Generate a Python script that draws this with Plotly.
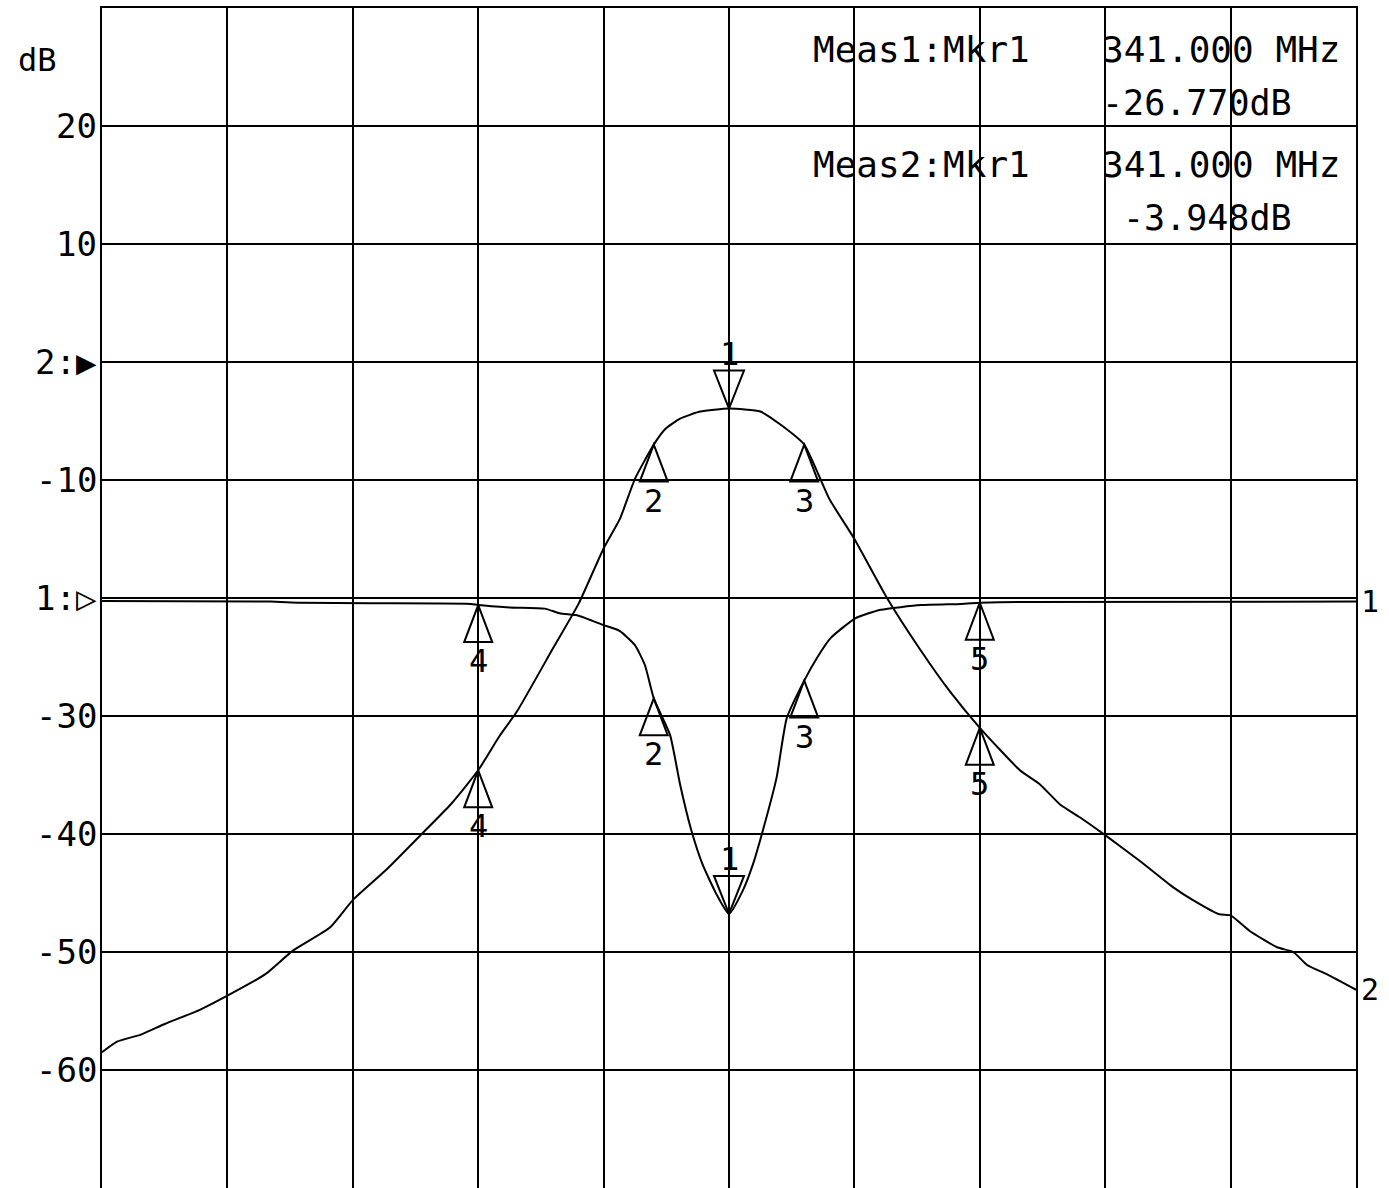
import plotly.graph_objects as go

FONT = "DejaVu Sans Mono, Liberation Mono, monospace"

# ---------------- data ----------------
# Trace 1 (Meas1, reflection) - dB, reference position shown at the "1:" grid line
t1_freq = [291.0, 304.4, 306.8, 312.4, 320.4, 321.0, 323.5, 326.3, 327.5, 329.0,
           331.0, 332.3, 333.5, 334.3, 335.0, 336.3, 337.1, 338.0, 338.9, 340.0,
           341.0, 342.1, 342.9, 343.7, 344.8, 345.6, 347.0, 348.0, 349.1, 351.1,
           353.1, 356.3, 359.5, 361.0, 362.6, 391.0]
t1_db = [-0.25, -0.3, -0.4, -0.45, -0.5, -0.6, -0.8, -0.9, -1.3, -1.5,
         -2.3, -2.8, -4.0, -5.7, -8.5, -11.6, -15.8, -19.7, -22.6, -25.1,
         -26.77, -24.8, -22.6, -19.7, -15.2, -10.2, -7.0, -5.1, -3.4, -1.7,
         -1.0, -0.6, -0.5, -0.4, -0.35, -0.3]
t1_ref_pos = -20

# Trace 2 (Meas2, transmission) - dB, reference position at the "2:" grid line
t2_freq = [291.0, 292.2, 294.1, 296.0, 298.8, 301.0, 304.0, 306.2, 309.2, 311.0,
           313.6, 316.4, 318.8, 321.0, 322.7, 324.1, 327.0, 329.0, 331.0, 332.3,
           333.5, 335.0, 335.9, 337.1, 338.7, 341.0, 343.5, 345.1, 347.0, 349.0,
           351.0, 353.6, 356.2, 358.6, 361.0, 364.2, 365.8, 367.4, 369.0, 371.0,
           373.9, 376.4, 378.0, 380.1, 381.0, 382.5, 384.7, 386.0, 387.1, 388.7, 391.0]
t2_db = [-58.5, -57.6, -57.0, -56.1, -54.9, -53.7, -51.9, -49.9, -47.9, -45.6,
         -43.1, -40.1, -37.5, -34.6, -31.7, -29.6, -24.2, -20.5, -15.8, -13.3,
         -9.9, -7.0, -5.7, -4.8, -4.2, -3.948, -4.2, -5.3, -7.0, -11.6,
         -15.0, -20.0, -24.3, -27.9, -31.0, -34.6, -35.8, -37.5, -38.6, -40.1,
         -42.4, -44.5, -45.6, -46.8, -46.9, -48.2, -49.6, -50.0, -51.1, -51.9, -53.2]
t2_ref_pos = 0

# Markers
mkr_num = [1, 2, 3, 4, 5]
mkr_freq = [341, 335, 347, 321, 361]
t1_mkr_db = [-26.77, -8.5, -7.0, -0.6, -0.4]
t2_mkr_db = [-3.948, -7.0, -7.0, -34.6, -31.0]

# Axis
y_tickvals = [20, 10, 0, -10, -20, -30, -40, -50, -60]
y_ticktext = ["20", "10", "2:\u25B6", "-10", "1:\u25B7", "-30", "-40", "-50", "-60"]
y_gridvals = [30, 20, 10, 0, -10, -20, -30, -40, -50, -60, -70]
x_range = [291, 391]
x_grid = [291, 301, 311, 321, 331, 341, 351, 361, 371, 381, 391]

readout = [("Meas1:Mkr1", "341.000 MHz", "-26.770dB"),
           ("Meas2:Mkr1", "341.000 MHz", "-3.948dB")]

# ---------------- figure ----------------
fig = go.Figure()

traces = [(t1_freq, t1_db, t1_ref_pos, t1_mkr_db, "1"),
          (t2_freq, t2_db, t2_ref_pos, t2_mkr_db, "2")]

shapes = []
annotations = []
for freq, db, ref, mdb, label in traces:
    disp = [v + ref for v in db]
    fig.add_trace(go.Scatter(x=freq, y=disp, mode="lines",
                             line=dict(color="black", width=2, shape="spline", smoothing=0.5),
                             hoverinfo="skip", showlegend=False))
    annotations.append(dict(x=freq[-1], y=disp[-1], xref="x", yref="y", text=label,
                            showarrow=False, xanchor="left", xshift=3,
                            font=dict(family=FONT, size=30, color="black")))
    for n, f, v in zip(mkr_num, mkr_freq, mdb):
        yv = v + ref
        if n == 1:
            path = "M0,0 L-15,38 L15,38 Z"
            ysh = 55
        else:
            path = "M0,0 L-14,-37 L14,-37 Z"
            ysh = -56
        shapes.append(dict(type="path", xref="x", yref="y", xsizemode="pixel",
                           ysizemode="pixel", xanchor=f, yanchor=yv, path=path,
                           line=dict(color="black", width=2), fillcolor="rgba(0,0,0,0)"))
        annotations.append(dict(x=f, y=yv, xref="x", yref="y", text=str(n),
                                showarrow=False, yshift=ysh,
                                font=dict(family=FONT, size=32, color="black")))

# y tick labels placed just left of the axis
for v, t in zip(y_tickvals, y_ticktext):
    annotations.append(dict(x=0, y=v, xref="paper", yref="y", text=t, showarrow=False,
                            xanchor="right", yanchor="middle", xshift=-3,
                            font=dict(family=FONT, size=34, color="black")))

# readout text
rows_y = [(50, 103), (165, 218)]
H = 1180.0
for (name, freq_txt, val_txt), (y1, y2) in zip(readout, rows_y):
    annotations.append(dict(x=(811 - 102) / 1254, y=(1188 - y1) / H, xref="paper", yref="paper",
                            text=name, showarrow=False, xanchor="left", yanchor="middle",
                            font=dict(family=FONT, size=36, color="black")))
    annotations.append(dict(x=(1342 - 102) / 1254, y=(1188 - y1) / H, xref="paper", yref="paper",
                            text=freq_txt, showarrow=False, xanchor="right", yanchor="middle",
                            font=dict(family=FONT, size=36, color="black")))
    annotations.append(dict(x=(1294 - 102) / 1254, y=(1188 - y2) / H, xref="paper", yref="paper",
                            text=val_txt, showarrow=False, xanchor="right", yanchor="middle",
                            font=dict(family=FONT, size=35, color="black")))

annotations.append(dict(x=(37 - 102) / 1254, y=(1188 - 60) / H, xref="paper", yref="paper",
                        text="dB", showarrow=False, xanchor="center", yanchor="middle",
                        font=dict(family=FONT, size=32, color="black")))

fig.update_layout(
    width=1389, height=1188,
    margin=dict(l=102, r=33, t=8, b=0),
    paper_bgcolor="white", plot_bgcolor="white",
    shapes=shapes, annotations=annotations,
    xaxis=dict(range=x_range, tickvals=x_grid, showticklabels=False, showgrid=True,
               gridcolor="black", gridwidth=2, zeroline=False, showline=True,
               linecolor="black", linewidth=2, mirror=True, ticks=""),
    yaxis=dict(range=[-70, 30], tickvals=y_gridvals, showticklabels=False, showgrid=True,
               gridcolor="black", gridwidth=2, zeroline=False, showline=True,
               linecolor="black", linewidth=2, mirror=True, ticks=""),
    font=dict(family=FONT, color="black"),
)

fig.write_html("out.html", config={"displayModeBar": False},
               post_script="document.body.style.margin='0';")
